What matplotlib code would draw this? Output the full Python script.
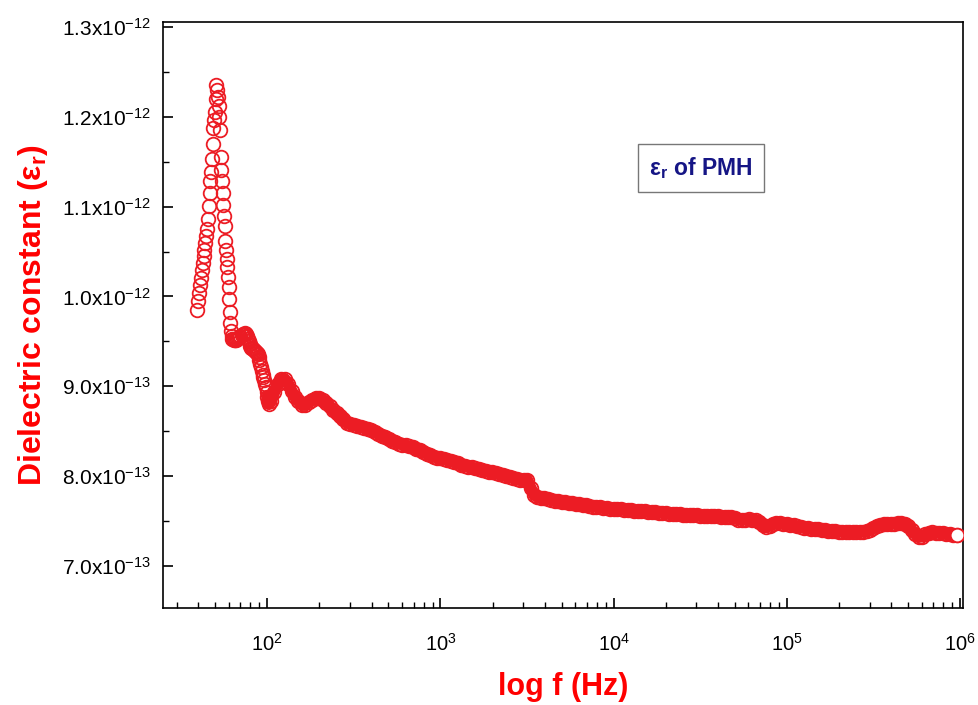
import numpy as np
import matplotlib
matplotlib.use("Agg")
import matplotlib.pyplot as plt
from matplotlib.ticker import MultipleLocator, LogLocator, NullFormatter

plt.rcParams['font.family'] = ['Liberation Sans', 'DejaVu Sans']
plt.rcParams['mathtext.fontset'] = 'custom'
plt.rcParams['mathtext.rm'] = 'Liberation Sans'
plt.rcParams['mathtext.bf'] = 'Liberation Sans:bold'
plt.rcParams['mathtext.it'] = 'Liberation Sans:italic'

# ---- data: low-frequency part (Hz), values in units of 1e-13 ----
freq_low_hz = [39.4, 39.9, 40.4, 40.9, 41.4, 41.9, 42.4, 42.9, 43.4, 43.9, 44.4, 44.9,
               45.4, 45.9, 46.4, 46.9, 47.4, 47.9, 48.4, 48.9, 49.4, 49.9, 50.4, 50.8,
               51.3, 51.8, 52.3, 52.8, 53.3, 53.8, 54.3, 54.8, 55.3, 55.8, 56.3, 56.8,
               57.3, 57.8, 58.3, 58.8, 59.3, 59.8, 60.3, 60.8, 61.3, 61.8, 62.3, 62.8,
               63, 64, 65, 66, 67, 68, 69, 70, 71, 72, 73, 74, 75, 76, 77, 78, 79, 80,
               81, 82, 83, 84, 85, 86, 87, 88, 89, 90, 91, 92, 93, 94, 95, 96, 97, 98,
               99, 100, 101, 102]
eps_low = [9.85, 9.95, 10.04, 10.13, 10.21, 10.29, 10.37, 10.45, 10.52, 10.60, 10.67, 10.75,
           10.86, 11.01, 11.15, 11.29, 11.39, 11.53, 11.70, 11.87, 11.96, 12.05, 12.20, 12.35,
           12.30, 12.22, 12.12, 12.00, 11.85, 11.55, 11.41, 11.28, 11.15, 11.02, 10.90, 10.78,
           10.62, 10.52, 10.42, 10.33, 10.22, 10.10, 9.97, 9.83, 9.70, 9.62, 9.56, 9.53,
           9.53, 9.52, 9.51, 9.52, 9.53, 9.54, 9.55, 9.56, 9.57, 9.58, 9.585, 9.59, 9.585,
           9.56, 9.53, 9.50, 9.47, 9.45, 9.43, 9.42, 9.41, 9.40, 9.39, 9.38, 9.37, 9.36,
           9.33, 9.29, 9.25, 9.21, 9.17, 9.13, 9.10, 9.07, 9.03, 8.99, 8.94, 8.88, 8.84, 8.80]

# ---- data: high-frequency part (log10 f), values in units of 1e-13 ----
logf_high = [2.02, 2.04, 2.06, 2.08, 2.10, 2.12, 2.14, 2.16, 2.18, 2.20, 2.22, 2.24, 2.26, 2.28,
             2.30, 2.32, 2.34, 2.36, 2.38, 2.40, 2.42, 2.44, 2.46, 2.48, 2.50, 2.52, 2.54, 2.56,
             2.58, 2.60, 2.62, 2.64, 2.66, 2.68, 2.70, 2.72, 2.74, 2.76, 2.78, 2.80, 2.82, 2.84,
             2.86, 2.88, 2.90, 2.92, 2.94, 2.96, 2.98, 3.00, 3.02, 3.04, 3.06, 3.08, 3.10, 3.12,
             3.14, 3.16, 3.18, 3.20, 3.22, 3.24, 3.26, 3.28, 3.30, 3.32, 3.34, 3.36, 3.38, 3.40,
             3.42, 3.44, 3.46, 3.48, 3.50, 3.52, 3.54, 3.56, 3.58, 3.60, 3.62, 3.64, 3.66, 3.68,
             3.70, 3.72, 3.74, 3.76, 3.78, 3.80, 3.82, 3.84, 3.86, 3.88, 3.90, 3.92, 3.94, 3.96,
             3.98, 4.00, 4.02, 4.04, 4.06, 4.08, 4.10, 4.12, 4.14, 4.16, 4.18, 4.20, 4.22, 4.24,
             4.26, 4.28, 4.30, 4.32, 4.34, 4.36, 4.38, 4.40, 4.42, 4.44, 4.46, 4.48, 4.50, 4.52,
             4.54, 4.56, 4.58, 4.60, 4.62, 4.64, 4.66, 4.68, 4.70, 4.72, 4.74, 4.76, 4.78, 4.80,
             4.82, 4.84, 4.86, 4.88, 4.90, 4.92, 4.94, 4.96, 4.98, 5.00, 5.02, 5.04, 5.06, 5.08,
             5.10, 5.12, 5.14, 5.16, 5.18, 5.20, 5.22, 5.24, 5.26, 5.28, 5.30, 5.32, 5.34, 5.36,
             5.38, 5.40, 5.42, 5.44, 5.46, 5.48, 5.50, 5.52, 5.54, 5.56, 5.58, 5.60, 5.62, 5.64,
             5.66, 5.68, 5.70, 5.72, 5.74, 5.76, 5.78, 5.80, 5.82, 5.84, 5.86, 5.88, 5.90, 5.92,
             5.94, 5.96, 5.98]
eps_high = [8.83, 8.93, 9.02, 9.08, 9.08, 9.03, 8.95, 8.88, 8.83, 8.79, 8.79, 8.82, 8.85, 8.87,
            8.87, 8.85, 8.81, 8.78, 8.73, 8.70, 8.67, 8.63, 8.59, 8.58, 8.57, 8.56, 8.55, 8.54,
            8.52, 8.51, 8.49, 8.47, 8.45, 8.43, 8.41, 8.39, 8.375, 8.36, 8.35, 8.34, 8.33, 8.32,
            8.30, 8.285, 8.27, 8.25, 8.23, 8.215, 8.205, 8.195, 8.19, 8.18, 8.165, 8.155, 8.14, 8.125,
            8.115, 8.105, 8.095, 8.085, 8.075, 8.065, 8.06, 8.05, 8.04, 8.03, 8.02, 8.01, 8.00, 7.99,
            7.98, 7.97, 7.955, 7.95, 7.96, 7.87, 7.79, 7.77, 7.755, 7.75, 7.74, 7.735, 7.725, 7.72,
            7.71, 7.705, 7.70, 7.695, 7.69, 7.685, 7.68, 7.675, 7.665, 7.66, 7.655, 7.65, 7.645, 7.64,
            7.635, 7.635, 7.63, 7.63, 7.625, 7.62, 7.62, 7.615, 7.61, 7.61, 7.605, 7.60, 7.60, 7.595,
            7.59, 7.59, 7.585, 7.58, 7.58, 7.575, 7.575, 7.57, 7.57, 7.565, 7.565, 7.565, 7.56, 7.56,
            7.555, 7.555, 7.55, 7.55, 7.545, 7.545, 7.545, 7.54, 7.53, 7.515, 7.51, 7.515, 7.52, 7.515,
            7.51, 7.49, 7.45, 7.43, 7.445, 7.465, 7.48, 7.48, 7.47, 7.465, 7.455, 7.45, 7.44, 7.435,
            7.425, 7.42, 7.415, 7.41, 7.405, 7.40, 7.395, 7.39, 7.385, 7.385, 7.38, 7.38, 7.38, 7.375,
            7.375, 7.375, 7.375, 7.38, 7.385, 7.40, 7.425, 7.445, 7.455, 7.46, 7.465, 7.465, 7.47, 7.475,
            7.48, 7.47, 7.44, 7.40, 7.355, 7.32, 7.325, 7.35, 7.37, 7.375, 7.37, 7.365, 7.36, 7.355,
            7.35, 7.345, 7.343]
UNIT = 1e-13

y_ticks = [7.0e-13, 8.0e-13, 9.0e-13, 1.0e-12, 1.1e-12, 1.2e-12, 1.3e-12]
y_tick_labels = [r'$\mathregular{7.0x10^{-13}}$', r'$\mathregular{8.0x10^{-13}}$',
                 r'$\mathregular{9.0x10^{-13}}$', r'$\mathregular{1.0x10^{-12}}$',
                 r'$\mathregular{1.1x10^{-12}}$', r'$\mathregular{1.2x10^{-12}}$',
                 r'$\mathregular{1.3x10^{-12}}$']
x_ticks = [1e2, 1e3, 1e4, 1e5, 1e6]
x_tick_labels = [r'$\mathregular{10^{2}}$', r'$\mathregular{10^{3}}$', r'$\mathregular{10^{4}}$',
                 r'$\mathregular{10^{5}}$', r'$\mathregular{10^{6}}$']

f_low = np.array(freq_low_hz)
f_high = 10 ** np.array(logf_high)
e_low = np.array(eps_low) * UNIT
e_high = np.array(eps_high) * UNIT
freq = np.concatenate([f_low, f_high])
eps = np.concatenate([e_low, e_high])

fig = plt.figure(figsize=(9.79, 7.05), dpi=100)
ax = fig.add_axes([0.1665, 0.1376, 0.8172, 0.8312])

marker_red = '#ec1c24'
# dense measurement band (points overlap into a solid trace)
ax.plot(np.concatenate([f_low[-3:], f_high]), np.concatenate([e_low[-3:], e_high]),
        color=marker_red, linewidth=8.5, solid_capstyle='round', solid_joinstyle='round',
        zorder=2)
ax.plot(freq, eps, linestyle='none', marker='o', markersize=9.8,
        markerfacecolor='none', markeredgecolor=marker_red, markeredgewidth=1.3, zorder=3)
ax.plot(freq[-1:], eps[-1:], linestyle='none', marker='o', markersize=9.8,
        markerfacecolor='white', markeredgecolor=marker_red, markeredgewidth=1.3, zorder=4)

ax.set_xscale('log')
ax.set_xlim(25, 1.04e6)
ax.set_ylim(6.53e-13, 1.3056e-12)

ax.set_yticks(y_ticks)
ax.set_yticklabels(y_tick_labels)
ax.yaxis.set_minor_locator(MultipleLocator(0.5e-13))
ax.set_xticks(x_ticks)
ax.set_xticklabels(x_tick_labels)
ax.xaxis.set_minor_locator(LogLocator(base=10, subs=np.arange(2, 10)))
ax.xaxis.set_minor_formatter(NullFormatter())

ax.tick_params(axis='both', which='major', direction='in', length=7, width=1.2,
               labelsize=15, top=False, right=False)
ax.tick_params(axis='both', which='minor', direction='in', length=4, width=1.0,
               top=False, right=False)
ax.tick_params(axis='x', which='major', pad=18, labelsize=14.5)
ax.tick_params(axis='y', which='major', pad=9)
for s in ax.spines.values():
    s.set_linewidth(1.2)

ax.set_xlabel('log f (Hz)', color='#ff0000', fontsize=22, fontweight='bold', labelpad=12)
ax.set_ylabel(r'Dielectric constant ($\mathbf{ε_r}$)', color='#ff0000', fontsize=23,
              fontweight='bold', labelpad=8)

ax.text(0.6725, 0.751, r'$\mathbf{ε_r}$ of PMH', transform=ax.transAxes, ha='center',
        va='center', fontsize=16.5, fontweight='bold', color='#151585',
        bbox=dict(boxstyle='square,pad=0.5', facecolor='white', edgecolor='#777777',
                  linewidth=1.0))

fig.savefig('out.png', dpi=100)
